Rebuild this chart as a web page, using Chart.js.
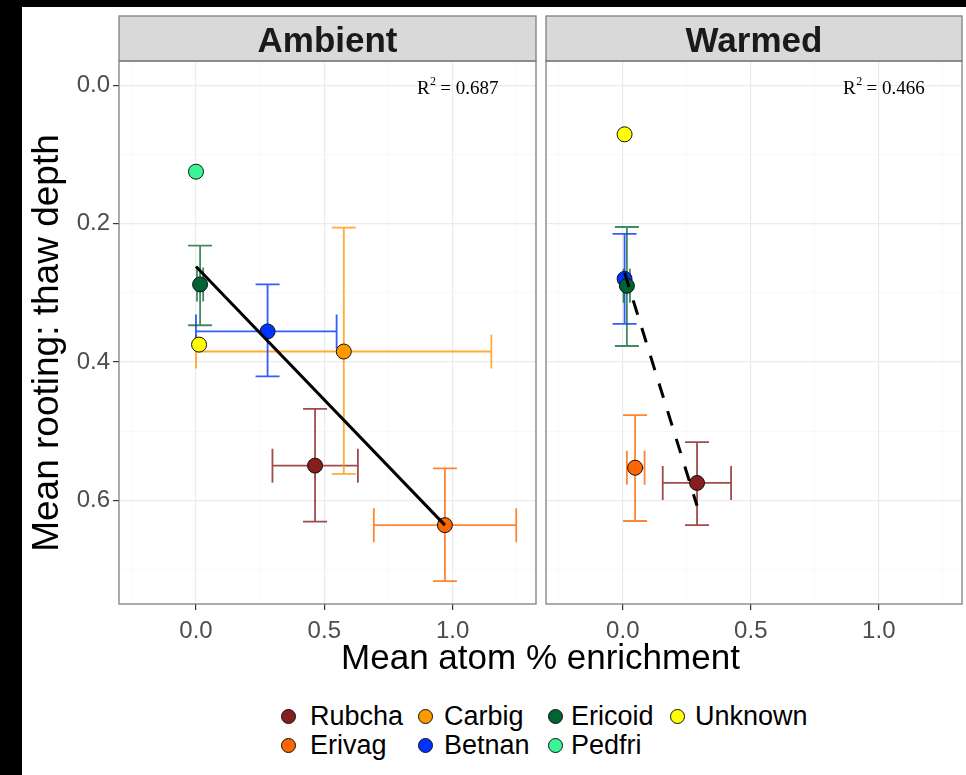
<!DOCTYPE html>
<html>
<head>
<meta charset="utf-8">
<script src="https://cdn.jsdelivr.net/npm/chart.js@4.4.1/dist/chart.umd.min.js"></script>
<style>
  body { margin: 0; background: #000; width: 966px; height: 775px; overflow: hidden; position: relative;
         font-family: "Liberation Sans", Arial, sans-serif; }
  #sheet { position: absolute; left: 22px; top: 7px; width: 944px; height: 768px; background: #fff; }
  canvas { position: absolute; }
  #ambientChart { left: 22px; top: 7px; }
  #warmedChart { left: 542px; top: 7px; }
  #xTitle { position: absolute; left: 119px; width: 843px; top: 640px; text-align: center;
            font-size: 35px; line-height: 34px; color: #000; }
  #yTitle { position: absolute; left: 46px; top: 343px; width: 600px; margin-left: -300px; margin-top: -19px;
            text-align: center; font-size: 37px; line-height: 38px; color: #000; transform: rotate(-90deg); }
  .key { position: absolute; width: 15px; height: 15px; border-radius: 50%; border: 1px solid #111; box-sizing: border-box; }
  .keyLabel { position: absolute; font-size: 27px; line-height: 27px; color: #000; white-space: nowrap; }
</style>
</head>
<body>
<div id="sheet"></div>
<canvas id="ambientChart" width="520" height="640"></canvas>
<canvas id="warmedChart" width="424" height="640"></canvas>
<div id="yTitle">Mean rooting: thaw depth</div>
<div id="xTitle">Mean atom % enrichment</div>
<div id="legend"></div>

<script>
// species, in legend order
const species = ["Rubcha", "Erivag", "Carbig", "Betnan", "Ericoid", "Pedfri", "Unknown"];
const speciesFill = ["#871e1e", "#ff6600", "#ff9900", "#0033ff", "#006432", "#3cf596", "#ffff00"];
const speciesBar = ["rgba(135,30,30,0.8)", "rgba(255,102,0,0.8)", "rgba(255,153,0,0.8)", "rgba(0,51,255,0.8)",
                    "rgba(0,100,50,0.75)", "rgba(60,245,150,0.8)", "rgba(230,230,0,0.8)"];

// Ambient plots: means and error bar limits (null = no bar)
const ambientX   = [0.464, 0.970, 0.576, 0.279, 0.016, 0.000, 0.012];
const ambientY   = [0.550, 0.636, 0.385, 0.356, 0.288, 0.125, 0.375];
const ambientXLo = [0.298, 0.693, 0.000, 0.000, 0.004, null, null];
const ambientXHi = [0.631, 1.248, 1.151, 0.548, 0.028, null, null];
const ambientYLo = [0.468, 0.554, 0.206, 0.288, 0.232, null, null];
const ambientYHi = [0.631, 0.717, 0.562, 0.421, 0.347, null, null];
const ambientFitX = [0.000, 0.970];
const ambientFitY = [0.262, 0.636];
const ambientR2 = "0.687";

// Warmed plots
const warmedX   = [0.290, 0.048, null, 0.007, 0.016, null, 0.007];
const warmedY   = [0.575, 0.553, null, 0.280, 0.290, null, 0.071];
const warmedXLo = [0.156, 0.016, null, null, 0.003, null, null];
const warmedXHi = [0.423, 0.085, null, null, 0.028, null, null];
const warmedYLo = [0.516, 0.477, null, 0.215, 0.205, null, null];
const warmedYHi = [0.636, 0.630, null, 0.345, 0.377, null, null];
const warmedFitX = [0.007, 0.290];
const warmedFitY = [0.271, 0.608];
const warmedR2 = "0.466";

// axis breaks
const xBreaks = [-0.25, 0, 0.25, 0.5, 0.75, 1, 1.25];
const xLabels = [0, 0.5, 1];
const yBreaks = [0, 0.1, 0.2, 0.3, 0.4, 0.5, 0.6, 0.7];
const yLabels = [0, 0.2, 0.4, 0.6];

const sans = '"Liberation Sans", Arial, sans-serif';
const serif = '"Liberation Serif", "Times New Roman", serif';

function isMajor(list, v) {
  return list.some(b => Math.abs(b - v) < 1e-9);
}

function gridStyle(majors) {
  return {
    color: c => isMajor(majors, c.tick.value) ? "#ebebeb" : "#f5f5f5",
    lineWidth: c => isMajor(majors, c.tick.value) ? 1.2 : 0.7,
    tickColor: c => isMajor(majors, c.tick.value) ? "#333" : "rgba(0,0,0,0)",
    tickLength: 6,
    drawTicks: true
  };
}

function panelPlugin(panel) {
  return {
    id: "panel_" + panel.label,
    beforeDatasetsDraw(chart) {
      const { ctx, scales: { x, y } } = chart;
      ctx.save();
      ctx.lineWidth = 1.8;
      for (let i = 0; i < species.length; i++) {
        if (panel.x[i] == null) continue;
        const px = x.getPixelForValue(panel.x[i]);
        const py = y.getPixelForValue(panel.y[i]);
        ctx.strokeStyle = speciesBar[i];
        ctx.beginPath();
        if (panel.yLo[i] != null) {
          const y0 = y.getPixelForValue(panel.yLo[i]);
          const y1 = y.getPixelForValue(panel.yHi[i]);
          ctx.moveTo(px, y0); ctx.lineTo(px, y1);
          ctx.moveTo(px - 12, y0); ctx.lineTo(px + 12, y0);
          ctx.moveTo(px - 12, y1); ctx.lineTo(px + 12, y1);
        }
        if (panel.xLo[i] != null) {
          const x0 = x.getPixelForValue(panel.xLo[i]);
          const x1 = x.getPixelForValue(panel.xHi[i]);
          ctx.moveTo(x0, py); ctx.lineTo(x1, py);
          ctx.moveTo(x0, py - 17); ctx.lineTo(x0, py + 17);
          ctx.moveTo(x1, py - 17); ctx.lineTo(x1, py + 17);
        }
        ctx.stroke();
      }
      ctx.restore();
    },
    afterDraw(chart) {
      const { ctx, chartArea: a, scales: { x, y } } = chart;
      const w = a.right - a.left;
      ctx.save();
      // strip
      ctx.fillStyle = "#d9d9d9";
      ctx.fillRect(a.left, 9, w, a.top - 9);
      ctx.strokeStyle = "#7f7f7f";
      ctx.lineWidth = 1.3;
      ctx.strokeRect(a.left, 9, w, a.top - 9);
      ctx.strokeRect(a.left, a.top, w, a.bottom - a.top);
      ctx.fillStyle = "#1a1a1a";
      ctx.font = "bold 35px " + sans;
      ctx.textAlign = "center";
      ctx.textBaseline = "alphabetic";
      ctx.fillText(panel.label, (a.left + a.right) / 2, 44.5);

      // R squared note
      const big = "19px " + serif, small = "12px " + serif;
      const rest = " = " + panel.r2;
      ctx.font = big;
      const wR = ctx.measureText("R").width, wRest = ctx.measureText(rest).width;
      ctx.font = small;
      const w2 = ctx.measureText("2").width;
      const cx = x.getPixelForValue(1.02), cy = y.getPixelForValue(0.005);
      let tx = cx - (wR + w2 + wRest) / 2;
      ctx.textAlign = "left";
      ctx.textBaseline = "middle";
      ctx.fillStyle = "#000";
      ctx.font = big;
      ctx.fillText("R", tx, cy);
      ctx.font = small;
      ctx.fillText("2", tx + wR + 0.5, cy - 7);
      ctx.font = big;
      ctx.fillText(rest, tx + wR + w2, cy);
      ctx.restore();
    }
  };
}

function makeChart(id, panel, showY, padRight) {
  const datasets = [{
    type: "line",
    data: panel.fitX.map((v, i) => ({ x: v, y: panel.fitY[i] })),
    borderColor: "#000",
    borderWidth: 3,
    borderDash: panel.dashed ? [15, 14] : [],
    pointRadius: 0,
    fill: false,
    order: -100
  }];
  species.forEach((name, i) => {
    if (panel.x[i] == null) return;
    datasets.push({
      label: name,
      data: [{ x: panel.x[i], y: panel.y[i] }],
      backgroundColor: speciesFill[i],
      borderColor: "#111",
      borderWidth: 1,
      pointRadius: 7.5,
      pointHoverRadius: 7.5,
      order: -i
    });
  });

  return new Chart(document.getElementById(id), {
    type: "scatter",
    data: { datasets },
    plugins: [panelPlugin(panel)],
    options: {
      responsive: false,
      animation: false,
      devicePixelRatio: 1,
      layout: { autoPadding: false, padding: { top: 54, right: padRight, left: 0, bottom: 0 } },
      plugins: { legend: { display: false }, tooltip: { enabled: false } },
      scales: {
        x: {
          type: "linear",
          min: -0.30,
          max: 1.325,
          afterBuildTicks: s => { s.ticks = xBreaks.map(v => ({ value: v })); },
          afterFit: s => { s.height = 43; s.paddingLeft = 0; s.paddingRight = 0; },
          ticks: {
            autoSkip: false,
            maxRotation: 0,
            padding: 7,
            color: "#4d4d4d",
            font: { family: sans, size: 24 },
            callback: v => isMajor(xLabels, v) ? v.toFixed(1) : ""
          },
          grid: gridStyle(xLabels),
          border: { display: false }
        },
        y: {
          type: "linear",
          reverse: true,
          min: -0.035,
          max: 0.75,
          afterBuildTicks: s => { s.ticks = yBreaks.map(v => ({ value: v })); },
          afterFit: s => { s.width = showY ? 97 : 4; s.paddingTop = 0; s.paddingBottom = 0; },
          ticks: {
            display: showY,
            padding: 3,
            color: "#4d4d4d",
            font: { family: sans, size: 24 },
            callback: v => isMajor(yLabels, v) ? v.toFixed(1) : ""
          },
          grid: Object.assign(gridStyle(yLabels), { drawTicks: showY }),
          border: { display: false }
        }
      }
    }
  });
}

const ambient = { label: "Ambient", r2: ambientR2, dashed: false,
  x: ambientX, y: ambientY, xLo: ambientXLo, xHi: ambientXHi, yLo: ambientYLo, yHi: ambientYHi,
  fitX: ambientFitX, fitY: ambientFitY };
const warmed = { label: "Warmed", r2: warmedR2, dashed: true,
  x: warmedX, y: warmedY, xLo: warmedXLo, xHi: warmedXHi, yLo: warmedYLo, yHi: warmedYHi,
  fitX: warmedFitX, fitY: warmedFitY };

makeChart("ambientChart", ambient, true, 6);
makeChart("warmedChart", warmed, false, 4);

// legend: two rows, filled column by column
const keyCols = [288, 425, 555, 677];
const labelCols = [310, 444, 571, 695];
const keyRows = [716, 745];
const legend = document.getElementById("legend");
species.forEach((name, i) => {
  const col = Math.floor(i / 2), row = i % 2;
  const key = document.createElement("div");
  key.className = "key";
  key.style.left = (keyCols[col] - 7.5) + "px";
  key.style.top = (keyRows[row] - 7.5) + "px";
  key.style.background = speciesFill[i];
  legend.appendChild(key);
  const lab = document.createElement("div");
  lab.className = "keyLabel";
  lab.textContent = name;
  lab.style.left = labelCols[col] + "px";
  lab.style.top = (keyRows[row] + 10 - 23) + "px";
  legend.appendChild(lab);
});
</script>
</body>
</html>
